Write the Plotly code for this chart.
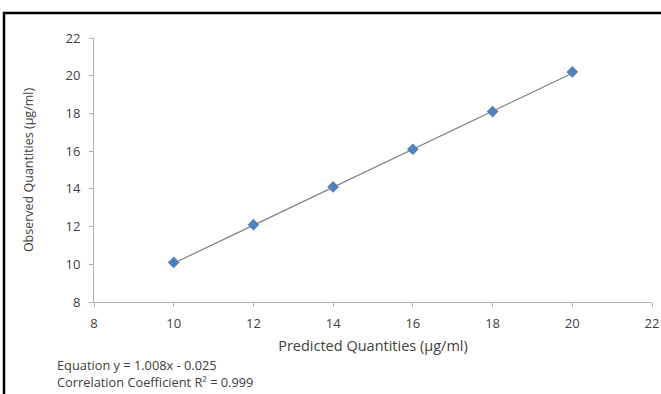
import plotly.graph_objects as go

predicted = [10, 12, 14, 16, 18, 20]
observed = [10.1, 12.1, 14.1, 16.1, 18.1, 20.2]
slope = 1.008
intercept = -0.025
tick_vals = [8, 10, 12, 14, 16, 18, 20, 22]

trend_x = [min(predicted), max(predicted)]
trend_y = [slope * v + intercept for v in trend_x]

fig = go.Figure()
fig.add_trace(go.Scatter(x=trend_x, y=trend_y, mode="lines",
                         line=dict(color="#808080", width=1.2), hoverinfo="skip"))
fig.add_trace(go.Scatter(x=predicted, y=observed, mode="markers",
                         marker=dict(symbol="diamond", size=9, color="#4F81BD",
                                     line=dict(width=0))))

font = "Open Sans, Liberation Sans, sans-serif"
axis_common = dict(showgrid=False, zeroline=False, showline=True, linecolor="#b3b3b3",
                   linewidth=1, ticks="outside", ticklen=4, tickcolor="#b3b3b3",
                   tickfont=dict(family=font, size=13, color="#404040"),
                   tickvals=tick_vals, automargin=False)
fig.update_xaxes(range=[8, 22], ticklabelstandoff=5,
                 title=dict(text="Predicted Quantities (µg/ml)",
                            font=dict(family=font, size=14.5, color="#404040"), standoff=10),
                 **axis_common)
fig.update_yaxes(range=[8, 22], ticklabelstandoff=6,
                 title=dict(text="Observed Quantities (µg/ml)",
                            font=dict(family=font, size=12.5, color="#404040"), standoff=29),
                 **axis_common)

fig.add_shape(type="rect", xref="paper", yref="paper", x0=(4 - 94) / 558, x1=1.2,
              y0=-0.6, y1=1 + (38 - 13) / 263, line=dict(color="black", width=2.5),
              layer="below")

fig.add_annotation(xref="paper", yref="paper", x=(55 - 94) / 558, y=-(373 - 302) / 263,
                   text="Equation y = 1.008x - 0.025<br>Correlation Coefficient R² = 0.999",
                   showarrow=False, xanchor="left", yanchor="middle", align="left",
                   font=dict(family=font, size=12.8, color="#404040"))

fig.update_layout(width=661, height=394, margin=dict(l=94, r=9, t=38, b=92),
                  paper_bgcolor="white", plot_bgcolor="white", showlegend=False)
fig.write_html("out.html")
